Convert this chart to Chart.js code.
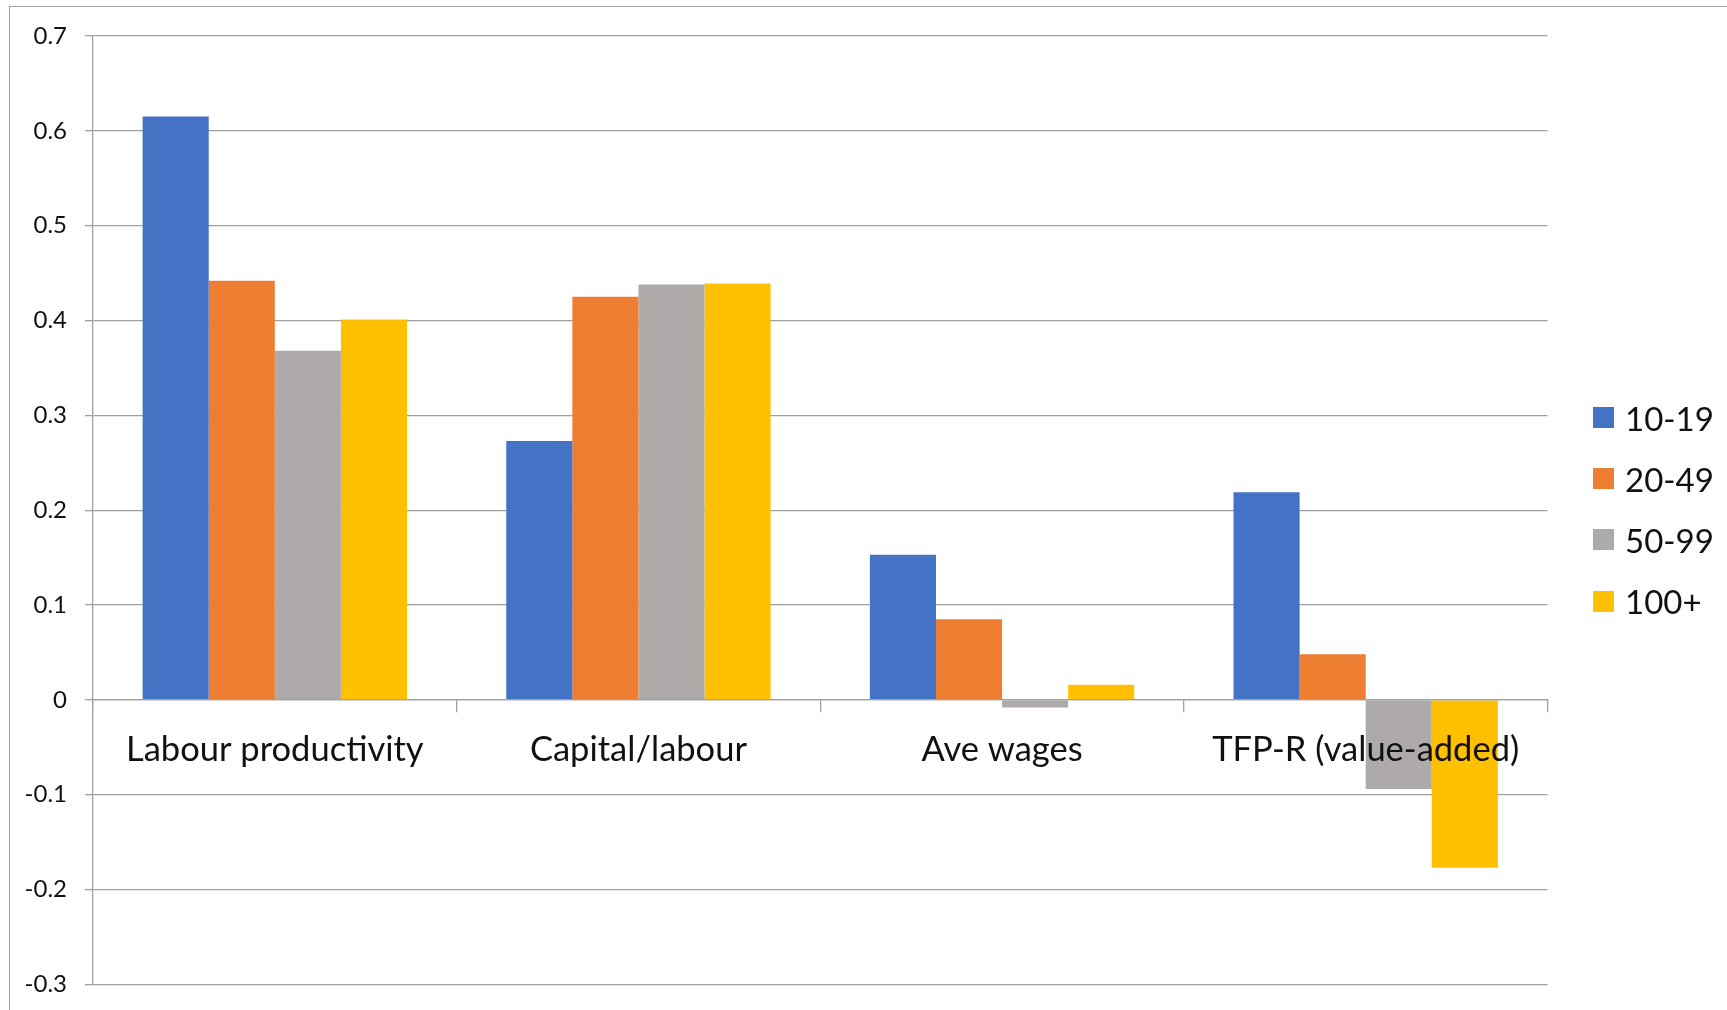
<!DOCTYPE html>
<html>
<head>
<meta charset="utf-8">
<title>Firm size comparison</title>
<script src="https://cdn.jsdelivr.net/npm/chart.js@4/dist/chart.umd.min.js"></script>
<style>
  html, body { margin: 0; padding: 0; background: #fff; overflow: hidden; }
  .wrap { position: relative; width: 1727px; height: 1010px; }
  .frame {
    position: absolute; left: 9px; top: 6px; width: 1740px; height: 1020px;
    border-left: 1.5px solid #a0a0a0; border-top: 1.5px solid #a0a0a0;
    box-sizing: border-box; pointer-events: none;
  }
  #legend { position: absolute; left: 1593px; top: 387px; font-family: Lato, sans-serif; font-size: 33px; color: #111; }
  #legend .item { display: flex; align-items: center; height: 61.2px; }
  #legend .swatch { width: 21px; height: 21px; margin-right: 11px; }
</style>
</head>
<body>
<div class="wrap">
  <div class="frame"></div>
  <canvas id="sizeChart"></canvas>
  <div id="legend"></div>
</div>
<script>
const categories = ['Labour productivity', 'Capital/labour', 'Ave wages', 'TFP-R (value-added)'];
const sizeBands = ['10-19', '20-49', '50-99', '100+'];
const size10to19 = [0.615, 0.273, 0.153, 0.219];
const size20to49 = [0.442, 0.425, 0.085, 0.048];
const size50to99 = [0.368, 0.438, -0.008, -0.094];
const size100plus = [0.401, 0.439, 0.016, -0.177];
const yTickValues = [-0.3, -0.2, -0.1, 0, 0.1, 0.2, 0.3, 0.4, 0.5, 0.6, 0.7];
const yTickLabels = ['-0.3', '-0.2', '-0.1', '0', '0.1', '0.2', '0.3', '0.4', '0.5', '0.6', '0.7'];

const colors = ['#4472C4', '#ED7D31', '#AEAAAA', '#FFC000'];
const gridColor = '#a0a0a0';
const seriesValues = [size10to19, size20to49, size50to99, size100plus];

const datasets = sizeBands.map((band, i) => ({
  label: band,
  data: seriesValues[i],
  backgroundColor: colors[i],
  borderWidth: 0,
  categoryPercentage: 0.727,
  barPercentage: 1
}));

const canvas = document.getElementById('sizeChart');
canvas.width = 1727;
canvas.height = 1010;

new Chart(canvas.getContext('2d'), {
  type: 'bar',
  data: { labels: categories, datasets: datasets },
  options: {
    responsive: false,
    animation: false,
    layout: { padding: { top: 36, bottom: 25.7, left: 0, right: 179.5 } },
    plugins: {
      legend: { display: false },
      tooltip: { enabled: false }
    },
    scales: {
      x: {
        // axis sits on the zero line, category names drawn over the negative bars
        position: { y: 0 },
        afterFit: scale => { scale.height = 0; },
        grid: {
          drawOnChartArea: false,
          drawTicks: true,
          tickLength: 12,
          offset: true,
          color: gridColor,
          lineWidth: 1.3,
          z: 1
        },
        border: { display: true, color: gridColor, width: 1.3, z: 1 },
        ticks: {
          z: 1,
          padding: 17,
          maxRotation: 0,
          autoSkip: false,
          color: '#111',
          font: { family: 'Lato', size: 34.5 }
        }
      },
      y: {
        min: -0.3,
        max: 0.7,
        afterFit: scale => {
          scale.width = 93;
          // layout padding alone decides the plot's top and bottom
          scale.paddingTop = 0;
          scale.paddingBottom = 0;
        },
        afterBuildTicks: axis => { axis.ticks = yTickValues.map(v => ({ value: v })); },
        grid: { color: gridColor, lineWidth: 1.3, tickLength: 8 },
        border: { display: true, color: gridColor, width: 1.3 },
        ticks: {
          padding: 18,
          color: '#111',
          font: { family: 'Lato', size: 24 },
          callback: (value, index) => yTickLabels[index]
        }
      }
    }
  }
});

// legend to the right of the plot
const legend = document.getElementById('legend');
sizeBands.forEach((band, i) => {
  const item = document.createElement('div');
  item.className = 'item';
  item.innerHTML = '<span class="swatch" style="background:' + colors[i] + '"></span><span>' + band + '</span>';
  legend.appendChild(item);
});
</script>
</body>
</html>
